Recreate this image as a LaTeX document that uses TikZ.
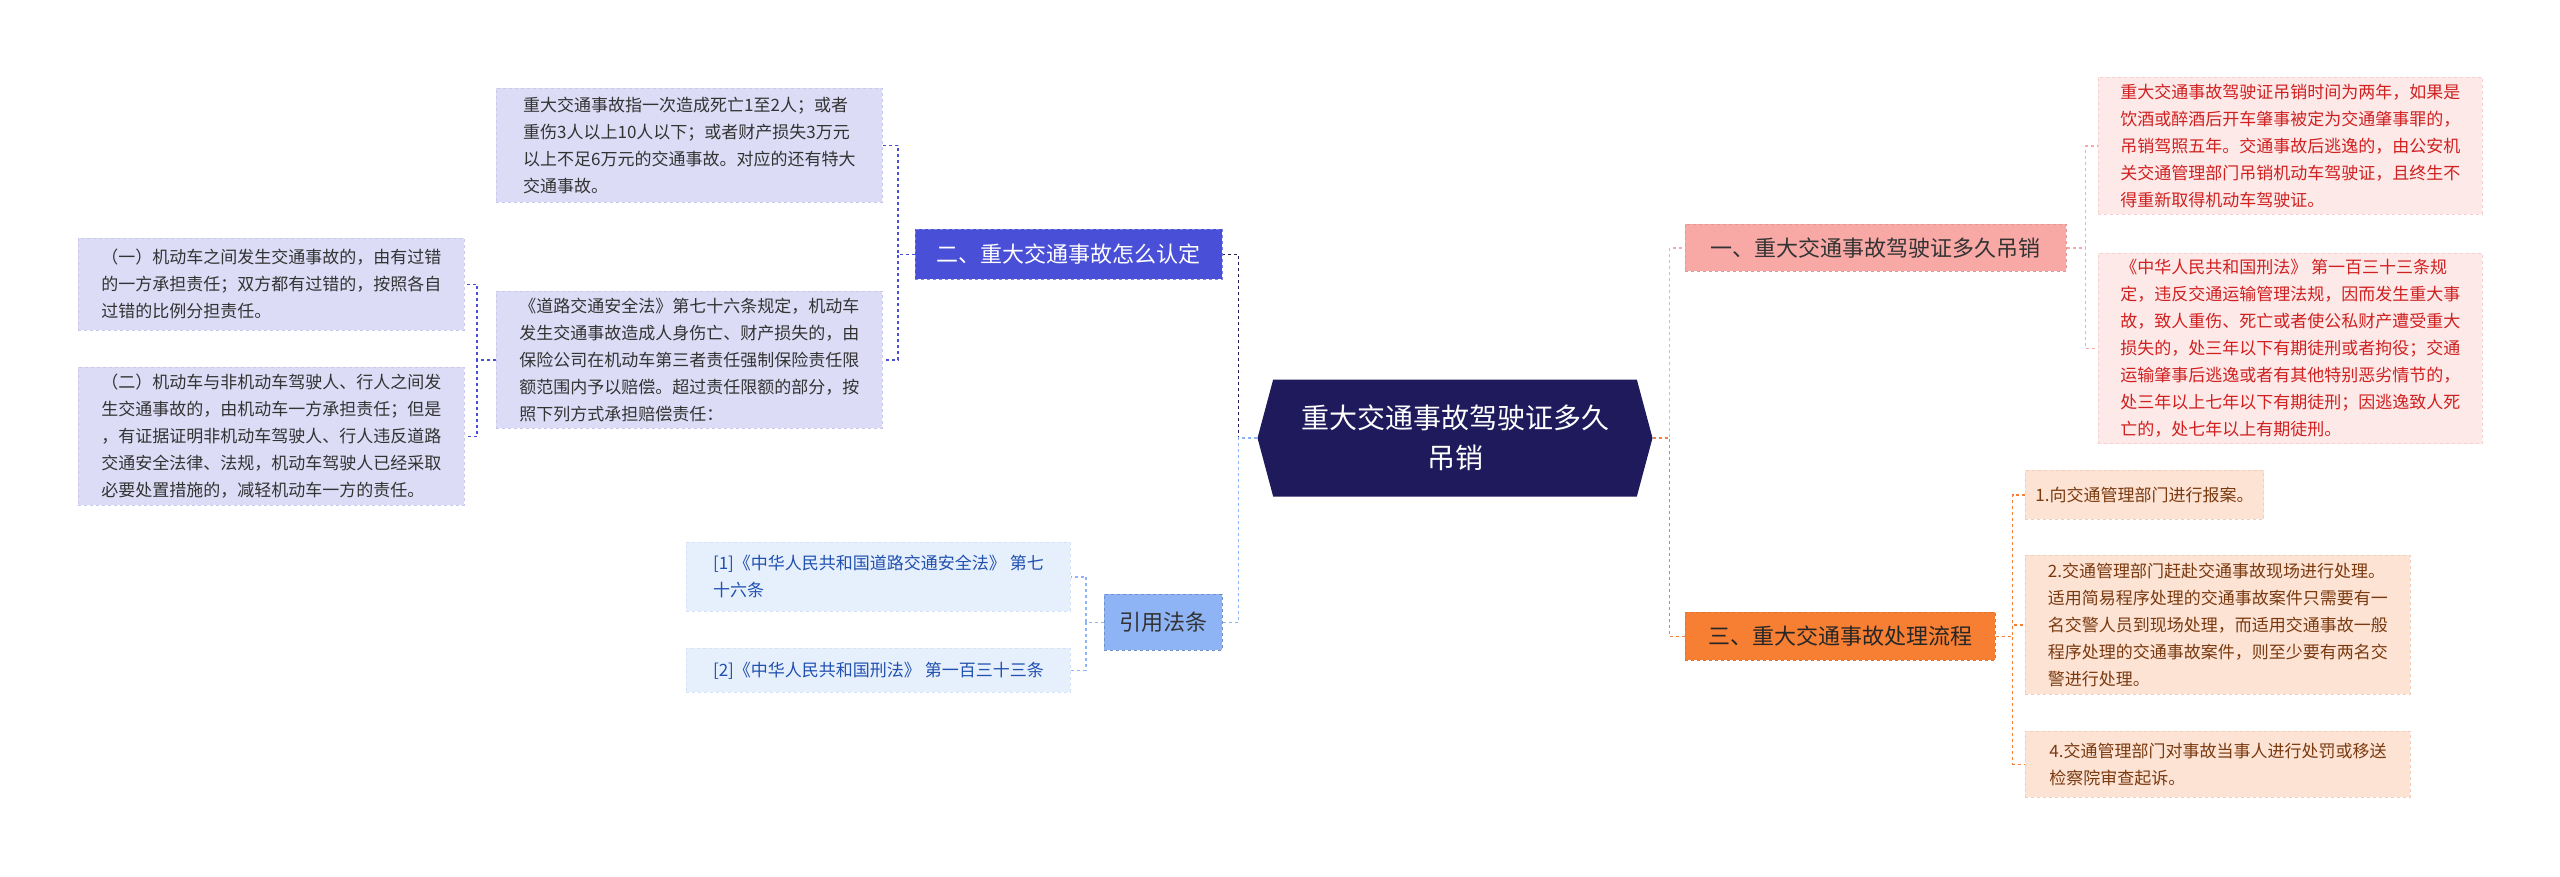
\documentclass[tikz,border=0pt]{standalone}
\usepackage{fontspec}
\setmainfont{Noto Sans CJK SC}
\usetikzlibrary{shapes.symbols}
\begin{document}
\begin{tikzpicture}[x=1pt,y=-1pt,
  box/.style={anchor=north west,align=left,inner xsep=10pt,inner ysep=6pt,font=\fontsize{17}{27}\selectfont,dashed,line width=0.8pt},
  lav/.style={box,fill=lavbg,draw=lavbd,text=black!80},
  pink/.style={box,fill=pinkbg,draw=pinkbd,text=redtx},
  blu/.style={box,fill=blubg,draw=blubd,text=blutx},
  ora/.style={box,fill=orabg,draw=orabd,text=browntx},
  br/.style={anchor=north west,align=center,inner sep=0pt,font=\fontsize{22}{28}\selectfont,dashed,line width=0.8pt},
  con/.style={dashed,line width=1.3pt}]
\definecolor{lavbg}{HTML}{DCDCF6}\definecolor{lavbd}{HTML}{C8C8EC}
\definecolor{pinkbg}{HTML}{FDE9E8}\definecolor{pinkbd}{HTML}{F6D0CE}\definecolor{redtx}{HTML}{D02020}
\definecolor{blubg}{HTML}{E6EFFC}\definecolor{blubd}{HTML}{D4E2F8}\definecolor{blutx}{HTML}{2050B0}
\definecolor{orabg}{HTML}{FDE3D4}\definecolor{orabd}{HTML}{F4CDB8}\definecolor{browntx}{HTML}{7A3A10}
\definecolor{navy}{HTML}{1E1A5C}\definecolor{indig}{HTML}{4A4FD8}\definecolor{lblue}{HTML}{8FB4F5}
\definecolor{salmon}{HTML}{F8A9A6}\definecolor{orng}{HTML}{F77F33}
\useasboundingbox[fill=white] (0,0) rectangle (2560,876);
% center
\node[signal,signal to=west and east,signal pointer angle=150,fill=navy,text=white,minimum width=395pt,minimum height=117pt,inner xsep=14pt,align=center,font=\fontsize{28}{40}\selectfont] (c) at (1455,438) {重大交通事故驾驶证多久\\吊销};
% branches
\node[br,fill=indig,draw=indig!70,text=white,minimum width=307pt,minimum height=50pt] (b2) at (915,229) {二、重大交通事故怎么认定};
\node[br,fill=lblue,draw=lblue!80!black,text=black!80,minimum width=118pt,minimum height=56pt] (b4) at (1104,594) {引用法条};
\node[br,fill=salmon,draw=salmon!90!black,text=black!80,minimum width=381pt,minimum height=47pt] (b1) at (1685,224) {一、重大交通事故驾驶证多久吊销};
\node[br,fill=orng,draw=orng!90!black,text=black!85,minimum width=310pt,minimum height=48pt] (b3) at (1685,612) {三、重大交通事故处理流程};
% left leaves
\node[lav,minimum width=386pt,minimum height=114pt] (a1) at (496,88) {重大交通事故指一次造成死亡1至2人；或者\\重伤3人以上10人以下；或者财产损失3万元\\以上不足6万元的交通事故。对应的还有特大\\交通事故。};
\node[lav,minimum width=386pt,minimum height=137pt] (a2) at (496,291) {《道路交通安全法》第七十六条规定，机动车\\发生交通事故造成人身伤亡、财产损失的，由\\保险公司在机动车第三者责任强制保险责任限\\额范围内予以赔偿。超过责任限额的部分，按\\照下列方式承担赔偿责任：};
\node[lav,minimum width=386pt,minimum height=92pt] (a3) at (78,238) {（一）机动车之间发生交通事故的，由有过错\\的一方承担责任；双方都有过错的，按照各自\\过错的比例分担责任。};
\node[lav,minimum width=386pt,minimum height=138pt] (a4) at (78,367) {（二）机动车与非机动车驾驶人、行人之间发\\生交通事故的，由机动车一方承担责任；但是\\，有证据证明非机动车驾驶人、行人违反道路\\交通安全法律、法规，机动车驾驶人已经采取\\必要处置措施的，减轻机动车一方的责任。};
\node[blu,minimum width=384pt,minimum height=69pt] (r1) at (686,542) {[1]《中华人民共和国道路交通安全法》 第七\\十六条};
\node[blu,minimum width=384pt,minimum height=44pt] (r2) at (686,648) {[2]《中华人民共和国刑法》 第一百三十三条};
% right leaves
\node[pink,minimum width=384pt,minimum height=137pt] (p1) at (2098,77) {重大交通事故驾驶证吊销时间为两年，如果是\\饮酒或醉酒后开车肇事被定为交通肇事罪的，\\吊销驾照五年。交通事故后逃逸的，由公安机\\关交通管理部门吊销机动车驾驶证，且终生不\\得重新取得机动车驾驶证。};
\node[pink,minimum width=384pt,minimum height=183pt] (p2) at (2098,253) {《中华人民共和国刑法》 第一百三十三条规\\定，违反交通运输管理法规，因而发生重大事\\故，致人重伤、死亡或者使公私财产遭受重大\\损失的，处三年以下有期徒刑或者拘役；交通\\运输肇事后逃逸或者有其他特别恶劣情节的，\\处三年以上七年以下有期徒刑；因逃逸致人死\\亡的，处七年以上有期徒刑。};
\node[ora,minimum width=225pt,minimum height=49pt] (o1) at (2025,470) {1.向交通管理部门进行报案。};
\node[ora,minimum width=385pt,minimum height=139pt] (o2) at (2025,555) {2.交通管理部门赶赴交通事故现场进行处理。\\适用简易程序处理的交通事故案件只需要有一\\名交警人员到现场处理，而适用交通事故一般\\程序处理的交通事故案件，则至少要有两名交\\警进行处理。};
\node[ora,minimum width=385pt,minimum height=66pt] (o3) at (2025,731) {4.交通管理部门对事故当事人进行处罚或移送\\检察院审查起诉。};
% connectors
\draw[con,navy] (c.west) -- ++(-19,0) |- (b2.east);
\draw[con,lblue] (c.west) -- ++(-19,0) |- (b4.east);
\draw[con,salmon] (c.east) -- ++(17,0) |- (b1.west);
\draw[con,orng] (c.east) -- ++(17,0) |- (b3.west);
\draw[con,indig] (b2.west) -- ++(-17,0) |- (a1.east);
\draw[con,indig] (b2.west) -- ++(-17,0) |- (a2.east);
\draw[con,indig] (a2.west) -- ++(-19,0) |- (a3.east);
\draw[con,indig] (a2.west) -- ++(-19,0) |- (a4.east);
\draw[con,lblue] (b4.west) -- ++(-18,0) |- (r1.east);
\draw[con,lblue] (b4.west) -- ++(-18,0) |- (r2.east);
\draw[con,salmon] (b1.east) -- ++(19,0) |- (p1.west);
\draw[con,salmon] (b1.east) -- ++(19,0) |- (p2.west);
\draw[con,orng] (b3.east) -- ++(17,0) |- (o1.west);
\draw[con,orng] (b3.east) -- ++(17,0) |- (o2.west);
\draw[con,orng] (b3.east) -- ++(17,0) |- (o3.west);
\end{tikzpicture}
\end{document}
